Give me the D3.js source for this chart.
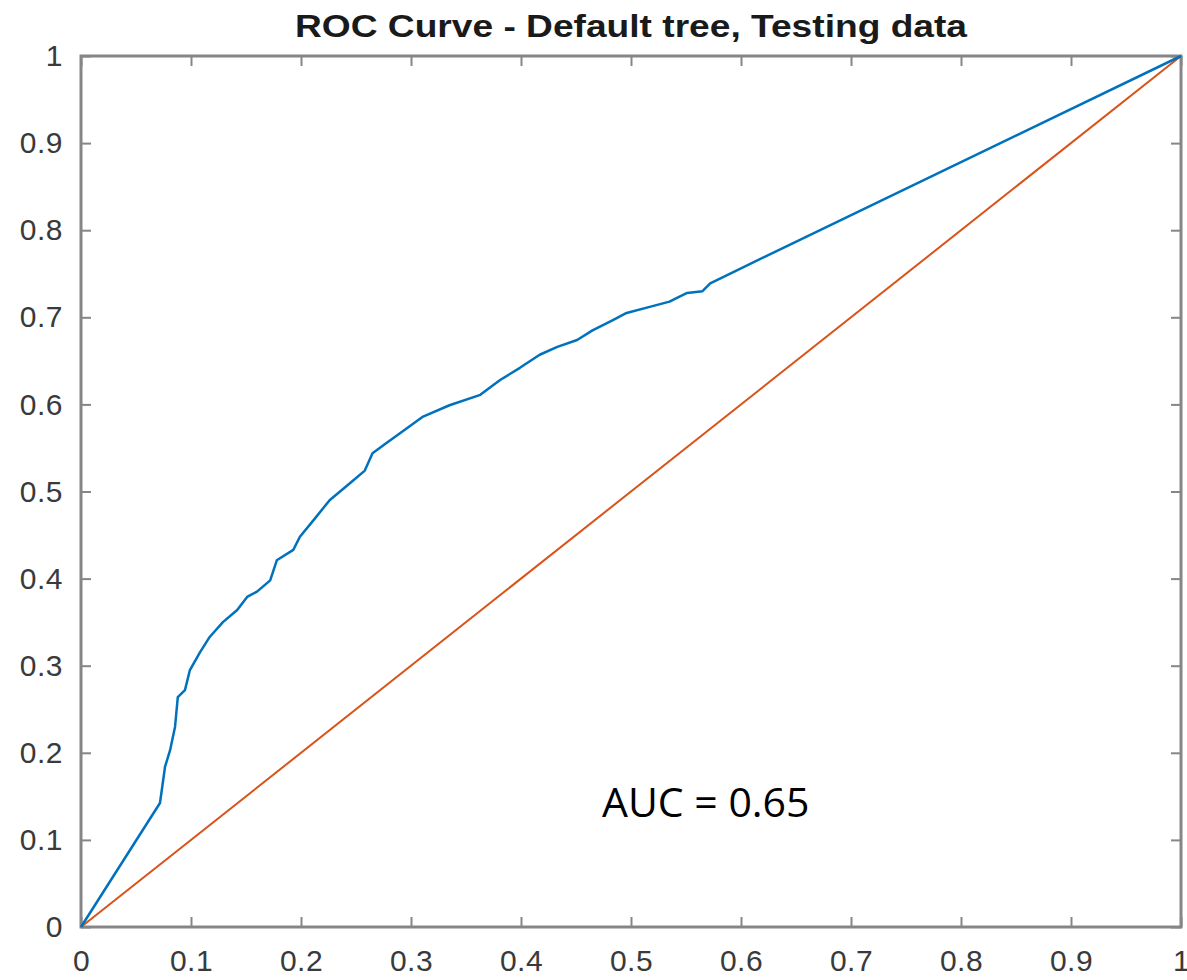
<!DOCTYPE html>
<html>
<head>
<meta charset="utf-8">
<script src="https://cdn.jsdelivr.net/npm/d3@7"></script>
<style>
  body { margin: 0; background: #fff; }
  svg { display: block; }
</style>
</head>
<body>
<div id="viz"></div>
<script>
// ROC curve points
var fpr = [0, 0.0718, 0.0764, 0.081, 0.0855, 0.088, 0.0945, 0.099, 0.108, 0.117, 0.129, 0.142, 0.151, 0.160,
  0.172, 0.178, 0.193, 0.199, 0.212, 0.226, 0.245, 0.258, 0.265, 0.278, 0.29, 0.311, 0.335, 0.363, 0.381, 0.399,
  0.417, 0.433, 0.451, 0.465, 0.484, 0.496, 0.517, 0.535, 0.551, 0.565, 0.572, 0.593, 1];
var tpr = [0, 0.1424, 0.184, 0.203, 0.230, 0.264, 0.272, 0.295, 0.315, 0.333, 0.350, 0.364, 0.379, 0.385,
  0.398, 0.421, 0.433, 0.448, 0.468, 0.490, 0.510, 0.524, 0.544, 0.556, 0.567, 0.586, 0.599, 0.611, 0.628, 0.642,
  0.657, 0.666, 0.674, 0.685, 0.697, 0.705, 0.712, 0.718, 0.728, 0.730, 0.739, 0.752, 1];
var chance = [[0, 0], [1, 1]];
var ticks = [0, 0.1, 0.2, 0.3, 0.4, 0.5, 0.6, 0.7, 0.8, 0.9, 1];
var title = 'ROC Curve - Default tree, Testing data';
var aucLabel = 'AUC = 0.65';

var width = 1187, height = 980;
var plotLeft = 81, plotRight = 1181, plotTop = 56, plotBottom = 927;

var svg = d3.select('#viz').append('svg')
  .attr('width', width)
  .attr('height', height);

var x = d3.scaleLinear().domain([0, 1]).range([plotLeft, plotRight]);
var y = d3.scaleLinear().domain([0, 1]).range([plotBottom, plotTop]);

var fmt = function(d) { return d === 0 || d === 1 ? String(d) : d3.format('.1f')(d); };
var axisColor = '#868686';

function styleAxis(g, labels) {
  g.select('.domain').remove();
  g.selectAll('.tick line').attr('stroke', axisColor).attr('stroke-width', 2);
  if (!labels) g.selectAll('.tick text').remove();
  g.selectAll('.tick text')
    .attr('fill', '#3a3a3a')
    .style('font-family', 'Liberation Sans, Arial, sans-serif')
    .style('font-size', '30px')
    .style('letter-spacing', '0.5px');
}

// inward ticks on all four sides, labels only on bottom and left
svg.append('g').attr('transform', 'translate(0,' + plotBottom + ')')
  .call(d3.axisBottom(x).tickValues(ticks).tickSize(-10).tickPadding(13).tickFormat(fmt))
  .call(styleAxis, true)
  .selectAll('.tick text').attr('dy', '1.02em');

svg.append('g').attr('transform', 'translate(' + plotLeft + ',0)')
  .call(d3.axisLeft(y).tickValues(ticks).tickSize(-10).tickPadding(18).tickFormat(fmt))
  .call(styleAxis, true);

svg.append('g').attr('transform', 'translate(0,' + plotTop + ')')
  .call(d3.axisTop(x).tickValues(ticks).tickSize(-10))
  .call(styleAxis, false);

svg.append('g').attr('transform', 'translate(' + plotRight + ',0)')
  .call(d3.axisRight(y).tickValues(ticks).tickSize(-10))
  .call(styleAxis, false);

// box
svg.append('rect')
  .attr('x', plotLeft).attr('y', plotTop)
  .attr('width', plotRight - plotLeft).attr('height', plotBottom - plotTop)
  .attr('fill', 'none')
  .attr('stroke', axisColor)
  .attr('stroke-width', 3);

var line = d3.line()
  .x(function(d) { return x(d[0]); })
  .y(function(d) { return y(d[1]); });

svg.append('path')
  .datum(chance)
  .attr('d', line)
  .attr('fill', 'none')
  .attr('stroke', '#D95319')
  .attr('stroke-width', 2);

svg.append('path')
  .datum(d3.zip(fpr, tpr))
  .attr('d', line)
  .attr('fill', 'none')
  .attr('stroke', '#0072BD')
  .attr('stroke-width', 2.5)
  .attr('stroke-linejoin', 'round');

svg.append('text')
  .attr('x', (plotLeft + plotRight) / 2)
  .attr('y', 37)
  .attr('text-anchor', 'middle')
  .attr('textLength', 672)
  .attr('lengthAdjust', 'spacingAndGlyphs')
  .style('font-family', 'Liberation Sans, Arial, sans-serif')
  .style('font-weight', 'bold')
  .style('font-size', '31px')
  .attr('fill', '#1a1a1a')
  .text(title);

svg.append('text')
  .attr('x', 602)
  .attr('y', 817)
  .style('font-family', 'Open Sans, sans-serif')
  .style('font-size', '41px')
  .attr('fill', '#000')
  .text(aucLabel);
</script>
</body>
</html>
